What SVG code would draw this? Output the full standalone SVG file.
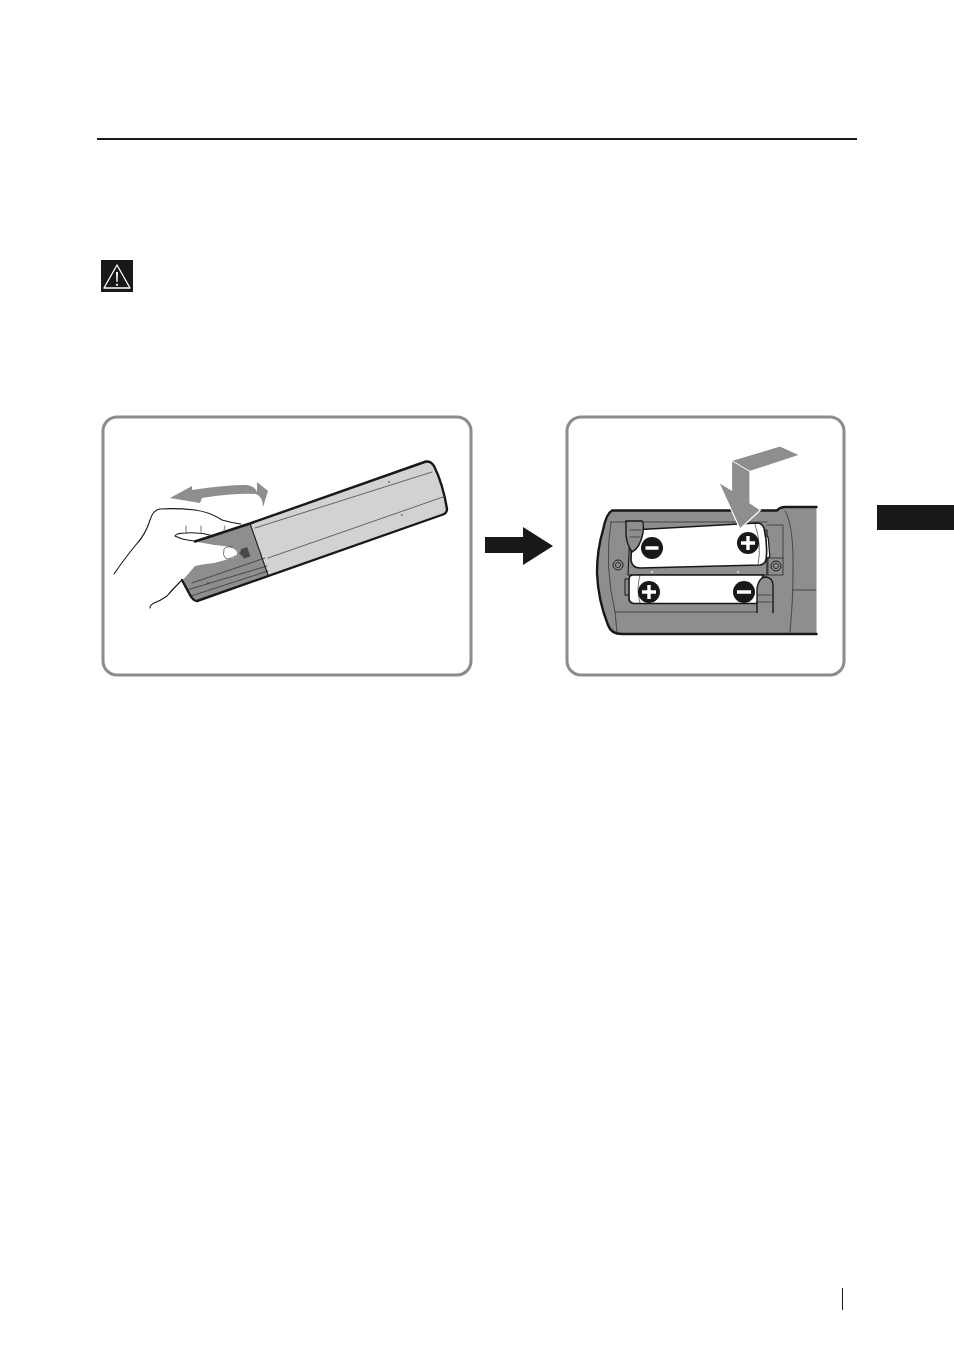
<svg xmlns="http://www.w3.org/2000/svg" width="954" height="1352" viewBox="0 0 954 1352">
<style>
.panel{fill:#fff;stroke:#8c8c8c;stroke-width:3}
.ink{fill:none;stroke:#1a1718;stroke-linecap:round;stroke-linejoin:round}
.thin{stroke-width:.6}
.mid{stroke-width:1.1}
.bold{stroke-width:2.4}
.dark{fill:#8e8e90}
.light{fill:#d1d2d3}
.bat{fill:#fff;stroke:#1a1718;stroke-width:1.6}
.pol{fill:#1a1718}
.sym{fill:none;stroke:#fff;stroke-width:3.4}
</style>
<rect width="954" height="1352" fill="#fff"/>
<rect x="97" y="138" width="760" height="2" fill="#1a1718"/>
<rect x="877" y="505" width="77" height="25" fill="#1a1718"/>
<rect x="842" y="1288" width="1" height="22" fill="#1a1718"/>
<g id="warning-icon">
<rect x="101" y="260" width="32" height="32" fill="#1a1718"/>
<path d="M117 265 L130 288 L104 288 Z" fill="none" stroke="#fff" stroke-width="1.3" stroke-linejoin="round"/>
<path d="M116 272 H118 L117.6 282 H116.4 Z" fill="#fff"/>
<circle cx="117" cy="284.8" r="1.1" fill="#fff"/>
</g>
<rect class="panel" x="103" y="417" width="368" height="258" rx="14"/>
<rect class="panel" x="567" y="417" width="277" height="258" rx="14"/>
<g id="remote-opening">
<path class="light" d="M250 523.5 L426 461.5 Q431 461 434 466 Q443 484 447 509 Q447 513 443 514.5 L268 575 Z"/>
<path class="dark" d="M195 541.5 L250 523.5 L268 575 L197 600 Q193 599 190 594 L183 580 L195 566 Q203 564 214 563 L233 558 Q238 555 237 552 Q235 548 228 546.5 Q212 545 195 541.5 Z"/>
<path class="ink mid" d="M250 523.5 L268 575"/>
<path class="ink bold" d="M195 541.5 L250 523.5 L426 461.5 Q431 461 434 466 Q443 484 447 509 Q447 513 443 514.5 L197 601 Q193 600.5 190 595 L182 580"/>
<path class="ink thin" d="M255 528 L432 472 M268 558 L443 497 M192 583 L265 558 M187 590 L267 566 M191 596 L268 571"/>
<path class="ink mid" d="M182 580 Q172 590 167 596 Q160 601 154 603 Q150 605 150 608"/>
<path class="ink mid" d="M114 574 Q125 558 135 546 Q146 534 150 520 Q153 510 160 509 Q176 508 195 510 Q210 512 222 520 Q232 523 241 524"/>
<path class="ink mid" d="M195 541 Q182 540 175 536 Q176 533 186 533 Q200 532 214 536"/>
<path class="ink thin" d="M186 526 V533 M201 526 V532 M225 526 L224 530"/>
<path class="ink thin" d="M232 547 Q226 546 224 549 Q222 555 226 559 Q231 559 235 556"/>
<g fill="#4a4a4a"><rect x="242" y="548" width="7" height="10" transform="rotate(-18 245 553)"/><path d="M242 550 L239 553 L243 557 Z"/></g>
<circle cx="389" cy="482" r=".8" fill="#333"/><circle cx="402" cy="515" r=".8" fill="#333"/><circle cx="208" cy="583" r=".8" fill="#333"/>
<path d="M170 498 L192 486 L192 490 Q225 485 246 485 Q255 486 257 492 L257 482 L268 491 L263 507 Q263 497 256 494 Q235 493 202 498 L200 503 Z" fill="#8e8e90"/>
</g>
<path id="step-arrow" d="M485 537 H523 V527 L553 546 L523 565 V553 H485 Z" fill="#1a1718"/>
<g id="remote-batteries">
<path class="dark" d="M816.5 507 H785 Q780 507 777 510.5 L612 510.5 Q606 514 603 530 Q597 550 597 573 Q598 600 608 625 Q611 634 622 634 H816.5 Z"/>
<path class="ink bold" d="M816.5 507 H785 Q780 507 777 510.5 L612 510.5 Q606 514 603 530 Q597 550 597 573 Q598 600 608 625 Q611 634 622 634 H816.5"/>
<path class="ink thin" d="M785 511 Q794 525 793 573 Q793 600 790 632 M793 590 H816 M611 522 H767 M611 522 Q604 565 615 612 L617 632 M615 612 H773"/>
<path class="ink mid" d="M630 530 H767 V575 H628 Z"/>
<path class="ink thin" d="M767 525 H783 V558"/>
<rect x="768" y="558" width="15" height="17" fill="#8e8e90" stroke="#1a1718" stroke-width=".7"/>
<circle cx="776" cy="566" r="5" fill="none" stroke="#1a1718" stroke-width="1"/><circle cx="776" cy="566" r="2.6" fill="none" stroke="#1a1718" stroke-width=".8"/>
<circle cx="618" cy="565" r="5" fill="none" stroke="#1a1718" stroke-width="1"/><circle cx="618" cy="565" r="2.6" fill="none" stroke="#1a1718" stroke-width=".8"/>
<circle cx="652" cy="572" r="1.2" fill="#d1d2d3"/><circle cx="738" cy="572" r="1.2" fill="#d1d2d3"/>
<rect x="764" y="536" width="5" height="22" rx="2.5" fill="#fff" stroke="#1a1718" stroke-width="1.2" transform="rotate(-5 766 547)"/>
<path class="bat" d="M632 530 L757 523 Q762 523 764 528 Q768 545 766 560 Q765 564 760 565 L640 568 Q632 568 631 560 Z"/>
<path class="ink thin" d="M755 524 Q762 545 758 565"/>
<rect x="625" y="579" width="5" height="16" fill="#8e8e90" stroke="#1a1718" stroke-width="1"/>
<path class="bat" d="M633 575 H763 L757 603.5 H634 Q629 603 629 598 V580 Q629 575 633 575 Z"/>
<path class="ink thin" d="M640 575 Q636 590 640 603"/>
<path d="M626 521 H642 Q644 522 643 533 Q640 548 632 552 Q627 545 626 535 Z" fill="#8e8e90" stroke="#1a1718" stroke-width="1.4"/>
<path class="ink thin" d="M630 530 H641 M630 537 H640"/>
<path d="M757 613 V588 Q759 577 766 577 Q773 578 773 586 V613" fill="#8e8e90" stroke="#1a1718" stroke-width="1.4"/>
<path class="ink thin" d="M758 595 H771 M758 602 H771"/>
<g class="pol"><circle cx="652" cy="548" r="11"/><circle cx="748" cy="543" r="11"/><circle cx="649" cy="592" r="11"/><circle cx="744" cy="592" r="11"/></g>
<path class="sym" d="M645.5 548 H658.5 M741 543 H755 M748 536 V550 M642 592 H656 M649 585 V599 M737 592 H751"/>
<path d="M731.5 460.5 L780 446 L800 455 L750 471.5 V503 L760.5 510 L740 529 L718.5 482 L731.5 490 Z" fill="#8e8e90" stroke="#fff" stroke-width="1.2"/>
<path d="M731.5 460.5 L750 471.5" stroke="#fff" stroke-width="1" fill="none"/>
</g>
</svg>
